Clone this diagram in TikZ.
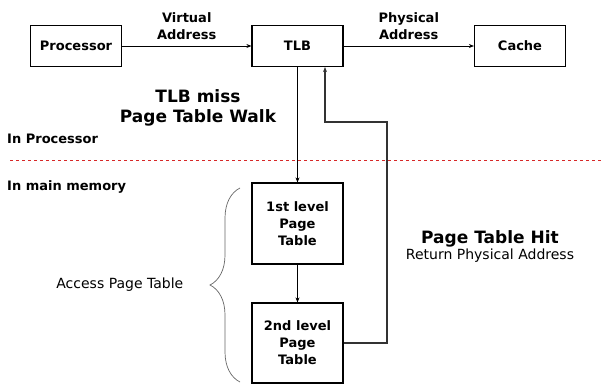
\documentclass[tikz,border=0pt]{standalone}
\usepackage{fontspec}
\setmainfont{DejaVu Sans}
\usetikzlibrary{positioning,arrows.meta,decorations.pathreplacing}

\definecolor{splitred}{RGB}{215,40,40}

\tikzset{
  blk/.style={draw, line width=1.2pt, minimum width=91pt, minimum height=41pt,
    inner sep=2pt, align=center, font=\bfseries\fontsize{13}{17}\selectfont},
  lbl/.style={align=center, font=\bfseries\fontsize{13}{17}\selectfont},
  big/.style={align=center, font=\bfseries\fontsize{17}{20}\selectfont},
  plain/.style={align=center, font=\fontsize{14}{16}\selectfont},
  flow/.style={-{Stealth[length=5pt, width=4pt]}, line width=0.8pt},
}

\begin{document}
\begin{tikzpicture}[x=1pt, y=-1pt]
    \useasboundingbox (0,0) rectangle (601,387);

    % the three blocks on top
    \node[blk] (proc) at (76,46) {Processor};
    \node[blk] (tlb) at (297.5,46) {TLB};
    \node[blk] (cache) at (520,46) {Cache};

    % page tables in memory
    \node[blk, minimum height=81pt] (pt1) at (297.5,223.5) {1st level\\Page\\Table};
    \node[blk, minimum height=80pt] (pt2) at (297.5,343) {2nd level\\Page\\Table};

    % region labels and the split
    \node[lbl, anchor=base west, inner sep=0pt] (inproc) at (7,144) {In Processor};
    \node[lbl, anchor=base west, inner sep=0pt] (inmem) at (7,190) {In main memory};
    \draw[splitred, dashed, line width=0.8pt] (10,160) -- (601,160);

    \node[big] (miss) at (198,108) {TLB miss\\Page Table Walk};
    \node[big, anchor=base, inner sep=0pt] (hit) at (490,243) {Page Table Hit};
    \node[plain, anchor=base, inner sep=0pt] (ret) at (490,259) {Return Physical Address};

    % arrows
    \draw[flow] (proc) -- node[lbl, above=3pt] (va) {Virtual\\Address} (tlb);
    \draw[flow] (tlb) -- node[lbl, above=3pt] (pa) {Physical\\Address} (cache);
    \draw[flow] (tlb) -- (pt1);
    \draw[flow] (pt1) -- (pt2);
    \coordinate (hitturn) at (387,122);
    \draw[flow, line width=1.2pt, black!80] (pt2.east) -| (hitturn) -| ([xshift=27.5pt]tlb.south);

    % brace over both tables
    \draw[decorate, decoration={brace, amplitude=30pt}, line width=0.7pt, black!60]
        (240,382) -- (240,188) node[midway, left=53pt, plain, black] (acc) {Access Page Table};

\end{tikzpicture}
\end{document}
